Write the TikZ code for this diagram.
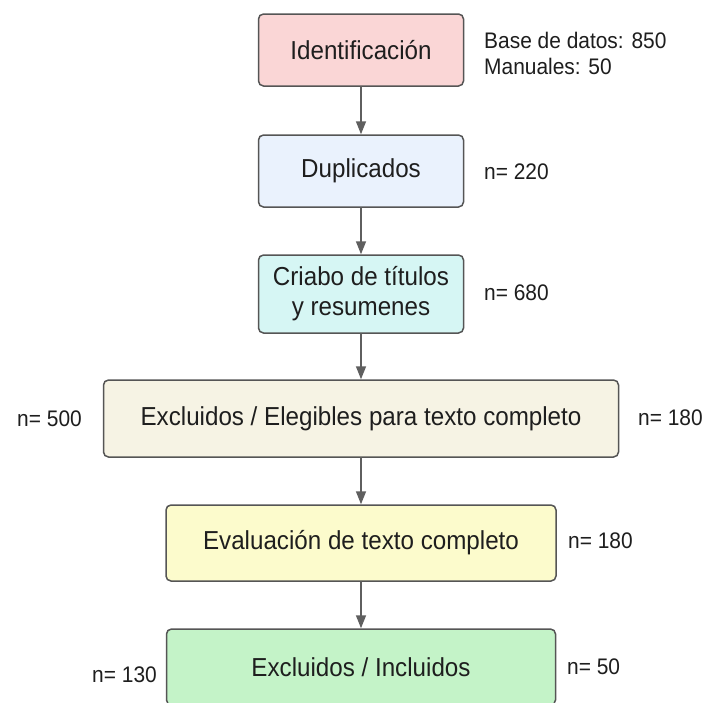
\documentclass[tikz,border=0pt]{standalone}
\usepackage{fontspec}
\setmainfont{Liberation Sans}[FakeStretch=0.93]
\usetikzlibrary{arrows,arrows.meta}
\usetikzlibrary{positioning}

\definecolor{rosa}{RGB}{250,214,214}
\definecolor{celeste}{RGB}{234,242,253}
\definecolor{cian}{RGB}{214,246,244}
\definecolor{beige}{RGB}{246,243,228}
\definecolor{amarillo}{RGB}{252,251,204}
\definecolor{verde}{RGB}{196,243,200}
\definecolor{borde}{RGB}{85,85,85}
\definecolor{flechagris}{RGB}{95,95,95}
\definecolor{texto}{RGB}{30,30,30}

\tikzset{
  caja/.style={draw=borde,line width=1.5pt,rounded corners=5pt,text=texto,
    font=\fontsize{26}{30}\selectfont,align=center,inner sep=0pt},
  nota/.style={text=texto,font=\fontsize{22.5}{26}\selectfont,anchor=west,
    align=left,inner sep=0pt},
  flecha/.style={-{Triangle[length=13pt,width=10pt]},draw=flechagris,fill=flechagris,line width=1.5pt}
}

\begin{document}
\begin{tikzpicture}[line cap=round,line join=round,x=1pt,y=-1pt]
\clip(0,0) rectangle (706,702);
\fill [white] (0,0) rectangle (706,702);
% cajas del flujo
\node[caja,fill=rosa,minimum width=205pt,minimum height=72pt] (ident) at (361,50) {Identificación};
\node[caja,fill=celeste,minimum width=205pt,minimum height=72pt] (dupl) at (361,171) {Duplicados};
\node[caja,fill=cian,minimum width=205pt,minimum height=78pt] (criba) at (361,294) {Criabo de títulos\\y resumenes};
\node[caja,fill=beige,minimum width=515pt,minimum height=77pt] (elegibles) at (361,418.5) {Excluidos / Elegibles para texto completo};
\node[caja,fill=amarillo,minimum width=390pt,minimum height=76pt] (evaluacion) at (361,543) {Evaluación de texto completo};
\node[caja,fill=verde,minimum width=389pt,minimum height=76pt] (incluidos) at (361,667) {Excluidos / Incluidos};
% conteos
\node[nota] (nbase) at (484,53) {Base de datos: 850\\Manuales: 50};
\node[nota] (n220) at (484,172) {n= 220};
\node[nota] (n680) at (484,293) {n= 680};
\node[nota,anchor=east] (n500) at (82,419) {n= 500};
\node[nota] (n180a) at (638,418) {n= 180};
\node[nota] (n180b) at (568,541) {n= 180};
\node[nota,anchor=east] (n130) at (157,675) {n= 130};
\node[nota] (n50) at (567,667) {n= 50};
% flechas
\draw [flecha] (ident) -- (dupl);
\draw [flecha] (dupl) -- (criba);
\draw [flecha] (criba) -- (elegibles);
\draw [flecha] (elegibles) -- (evaluacion);
\draw [flecha] (evaluacion) -- (incluidos);
\end{tikzpicture}
\end{document}
